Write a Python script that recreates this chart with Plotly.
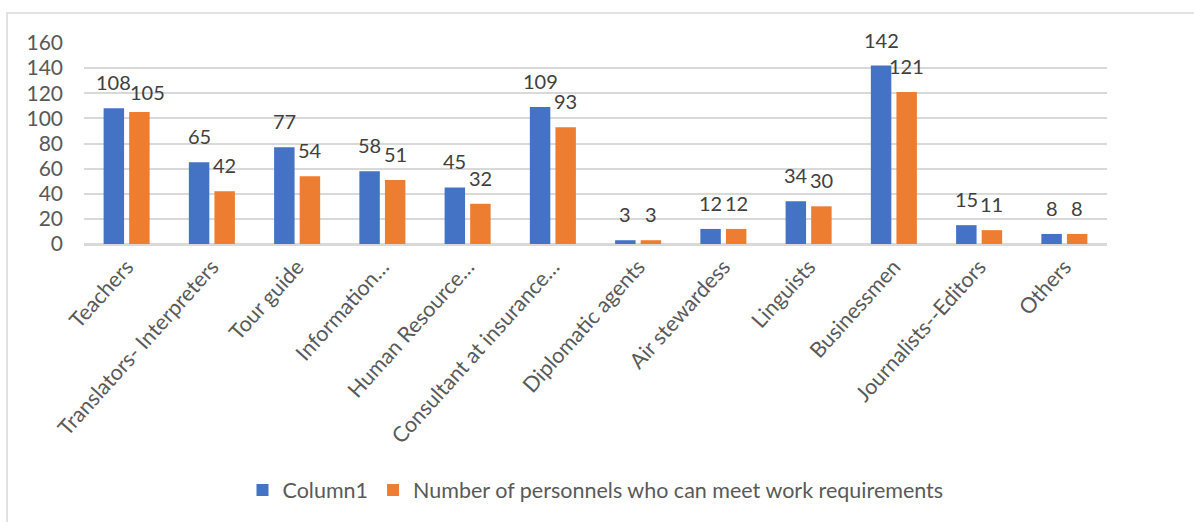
import plotly.graph_objects as go

categories = ["Teachers", "Translators- Interpreters", "Tour guide", "Information…",
              "Human Resource…", "Consultant at insurance…", "Diplomatic agents",
              "Air stewardess", "Linguists", "Businessmen", "Journalists--Editors", "Others"]
column1 = [108, 65, 77, 58, 45, 109, 3, 12, 34, 142, 15, 8]
meet_req = [105, 42, 54, 51, 32, 93, 3, 12, 30, 121, 11, 8]
series_names = ["Column1", "Number of personnels who can meet work requirements"]
y_ticks = [0, 20, 40, 60, 80, 100, 120, 140, 160]

FONT = "Lato, 'Noto Sans', sans-serif"
COLORS = ["#4472C4", "#ED7D31"]

L, R, T, B = 84, 87, 43, 278
W, H = 1194, 522
pw, ph = W - L - R, H - T - B
BARGAP = 0.40
slot_px = pw / len(categories) * (1 - BARGAP) / 2

fig = go.Figure()
annotations = []
for i, (name, vals) in enumerate([(series_names[0], column1), (series_names[1], meet_req)]):
    fig.add_trace(go.Bar(x=categories, y=vals, name=name,
                         marker=dict(color=COLORS[i], line=dict(width=0))))
    side = -0.5 if i == 0 else 0.5
    for j, (c, v) in enumerate(zip(categories, vals)):
        xs = side * slot_px
        ys = 12
        # Excel staggers crowded labels
        if i == 1 and c == "Teachers":
            xs += 8
            ys = 6
        annotations.append(dict(x=c, y=v, xref="x", yref="y", text=str(v),
                                showarrow=False, xshift=xs, yshift=ys,
                                yanchor="bottom", xanchor="center",
                                font=dict(size=20, color="#404040", family=FONT)))

fig.update_layout(
    width=W, height=H,
    margin=dict(l=L, r=R, t=T, b=B),
    paper_bgcolor="white", plot_bgcolor="white",
    barmode="group", bargap=BARGAP, bargroupgap=0.2,
    font=dict(family=FONT, color="#595959", size=20),
    legend=dict(orientation="h", x=0.5, xanchor="center",
                y=(T + ph - 490) / ph, yanchor="middle",
                font=dict(size=21.5, color="#595959"),
                itemsizing="constant", traceorder="normal"),
    xaxis=dict(tickangle=-48, tickfont=dict(size=21.5, color="#595959"),
               showgrid=False, showline=True, linecolor="#D9D9D9", linewidth=1.5,
               ticks=""),
    yaxis=dict(range=[0, 160], tickvals=y_ticks, showgrid=True, gridcolor="#D9D9D9",
               gridwidth=1.5, zeroline=True, zerolinecolor="#D9D9D9", zerolinewidth=1.5,
               tickfont=dict(size=21, color="#595959"), ticks="", ticklabelstandoff=20),
    annotations=annotations,
    shapes=[dict(type="rect", xref="paper", yref="paper",
                 x0=(7 - L) / pw, x1=(W + 5 - L) / pw,
                 y0=-(B + 5) / ph, y1=1 + (T - 13) / ph,
                 line=dict(color="#D9D9D9", width=1.5), fillcolor="rgba(0,0,0,0)",
                 layer="below")],
)

fig.write_html("out.html")
